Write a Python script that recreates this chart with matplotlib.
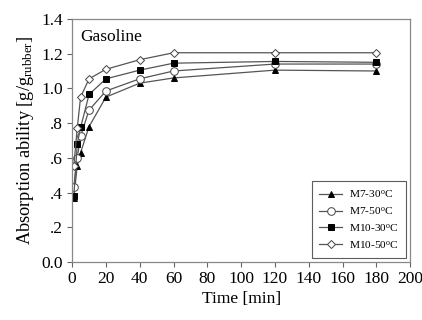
import matplotlib
matplotlib.use('Agg')
import matplotlib.pyplot as plt

plt.rcParams['font.family'] = 'Liberation Serif'
plt.rcParams['mathtext.fontset'] = 'custom'
plt.rcParams['mathtext.rm'] = 'Liberation Serif'
plt.rcParams['mathtext.it'] = 'Liberation Serif:italic'

# sampling times [min]
time = [1, 3, 5, 10, 20, 40, 60, 120, 180]

# absorption ability [g/g rubber]
m7_30 = [0.37, 0.555, 0.63, 0.78, 0.95, 1.03, 1.06, 1.105, 1.10]
m7_50 = [0.435, 0.60, 0.725, 0.875, 0.985, 1.055, 1.10, 1.14, 1.14]
m10_30 = [0.38, 0.68, 0.775, 0.965, 1.055, 1.105, 1.145, 1.155, 1.15]
m10_50 = [0.555, 0.77, 0.95, 1.055, 1.11, 1.165, 1.205, 1.205, 1.205]

labels = [r'M7-30$^{\rm o}$C', r'M7-50$^{\rm o}$C',
          r'M10-30$^{\rm o}$C', r'M10-50$^{\rm o}$C']
xticks = list(range(0, 201, 20))
yticks = [0.0, 0.2, 0.4, 0.6, 0.8, 1.0, 1.2, 1.4]
yticklabels = ['0.0', '.2', '.4', '.6', '.8', '1.0', '1.2', '1.4']

fig = plt.figure(figsize=(4.22, 3.2), dpi=100)
ax = fig.add_axes([0.171, 0.181, 0.801, 0.760])

line_c = '#555555'
styles = [('^', 'black', 5), ('o', 'white', 5.5), ('s', 'black', 5), ('D', 'white', 4.5)]
for y, lab, (m, fc, ms) in zip([m7_30, m7_50, m10_30, m10_50], labels, styles):
    ax.plot(time, y, color=line_c, lw=0.9, marker=m, markersize=ms,
            markerfacecolor=fc, markeredgecolor='black' if fc == 'black' else '#444444',
            markeredgewidth=0.7, label=lab)

ax.set_xlim(0, 200)
ax.set_ylim(0, 1.4)
ax.set_xticks(xticks)
ax.set_yticks(yticks)
ax.set_yticklabels(yticklabels)
ax.tick_params(direction='out', length=3.5, width=0.8, color='#666666',
               labelsize=12.5, pad=3)
for s in ax.spines.values():
    s.set_color('#888888')
    s.set_linewidth(0.9)

ax.set_xlabel('Time [min]', fontsize=12.5, labelpad=3)
ax.set_ylabel(r'Absorption ability [g/g$_{\rm rubber}$]', fontsize=13.2, labelpad=4)
ax.text(4.5, 1.34, 'Gasoline', fontsize=12.5, va='top', ha='left')

leg = ax.legend(loc='lower right', fontsize=8.2, fancybox=False, frameon=True,
                borderaxespad=0.35, handlelength=2.0, labelspacing=0.42,
                borderpad=0.65, handletextpad=0.6)
leg.get_frame().set_edgecolor('#333333')
leg.get_frame().set_linewidth(0.8)

fig.savefig('out.png', dpi=100)
